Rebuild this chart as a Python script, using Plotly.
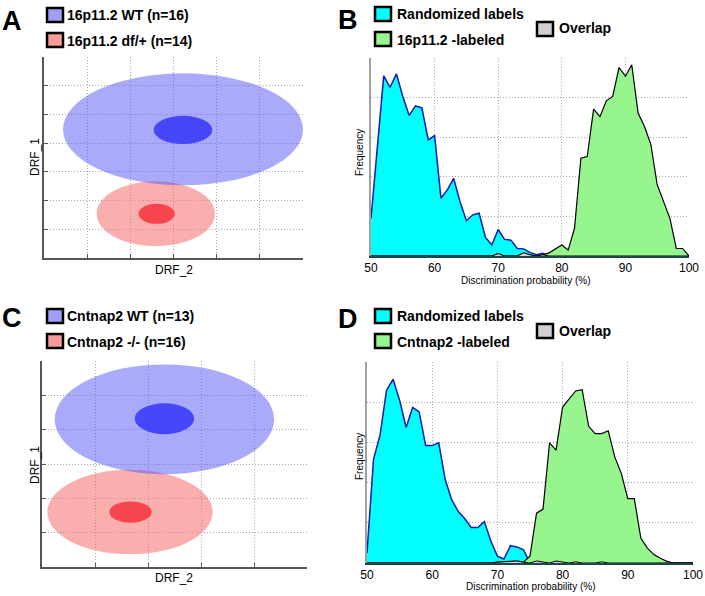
import plotly.graph_objects as go

# ---- data ----
# panel A / C: ellipses (centre x, centre y, radius x, radius y) in DRF units
a_wt_outer = (3.22, 4.48, 2.78, 1.95)
a_wt_inner = (3.22, 4.46, 0.68, 0.49)
a_df_outer = (2.59, 1.54, 1.37, 1.13)
a_df_inner = (2.61, 1.54, 0.42, 0.35)

c_wt_outer = (2.31, 4.30, 2.07, 1.60)
c_wt_inner = (2.31, 4.32, 0.56, 0.45)
c_ko_outer = (1.66, 1.60, 1.56, 1.23)
c_ko_inner = (1.67, 1.60, 0.40, 0.31)

# panel B / D: discrimination probability histograms
prob = list(range(50, 101))

b_random = [9.5, 28, 45.5, 42.6, 46.0, 40.3, 35.5, 37.9, 37.4, 29.3, 30.4,
            14.6, 16.7, 19.6, 13.7, 8.9, 10.4, 10.8, 4.7, 2.8, 6.7,
            4.2, 4.0, 1.9, 1.8, 0.9, 0.3, 0.7, 0, 0, 0,
            0, 0.3, 0, 0, 0, 0, 0, 0, 0, 0,
            0, 0, 0, 0, 0, 0, 0, 0, 0, 0]
b_label = [0, 0, 0, 0, 0, 0, 0, 0, 0, 0, 0,
           0, 0, 0, 0, 0, 0, 0, 0, 0, 0.6,
           0, 0, 0, 0.8, 0.3, 0, 0.3, 0.8, 1.8, 2.8,
           1.5, 7.0, 24.7, 25.1, 37.1, 35.2, 39.2, 40.3, 47.6, 45.4,
           48.3, 36.1, 32.7, 28.2, 18.0, 13.7, 9.5, 1.9, 1.9, 0]
b_overlap = [0, 0, 0, 0, 0, 0, 0, 0, 0, 0, 0,
             0, 0, 0, 0, 0, 0, 0, 0, 0, 0.6,
             0, 0, 0, 0.8, 0.3, 0, 0.3, 0, 0, 0,
             0, 0, 0, 0, 0, 0, 0, 0, 0, 0,
             0, 0, 0, 0, 0, 0, 0, 0, 0, 0]

d_random = [2.5, 25.8, 31.8, 43.0, 45.7, 40.5, 33.7, 38.7, 37.6, 29.2, 29.2,
            29.9, 20.7, 15.7, 12.8, 11.0, 8.8, 8.8, 10.3, 5.4, 1.7,
            1.0, 4.3, 4.0, 3.3, 0, 0.8, 0.3, 0, 0.8, 0.3,
            0, 0.3, 0, 0, 0, 0.3, 0, 0, 0, 0,
            0, 0, 0, 0, 0, 0, 0, 0, 0, 0]
d_label = [0, 0, 0, 0, 0, 0, 0, 0, 0, 0, 0,
           0, 0, 0, 0, 0, 0, 0, 0, 0, 0.2,
           0.3, 0.3, 0.5, 0.2, 1.7, 12.4, 13.4, 29.9, 28.1, 38.8,
           40.7, 42.8, 43.1, 34.0, 32.2, 32.2, 32.9, 26.4, 22.3, 16.0,
           16.0, 6.2, 3.7, 2.1, 1.2, 0.4, 0, 0, 0, 0]
d_overlap = [0, 0, 0, 0, 0, 0, 0, 0, 0, 0, 0,
             0, 0, 0, 0, 0, 0, 0, 0, 0, 0.2,
             0.3, 0.3, 0.5, 0.2, 0, 0.5, 0.3, 0, 0.5, 0.3,
             0, 0.3, 0, 0, 0, 0.3, 0, 0, 0, 0,
             0, 0, 0, 0, 0, 0, 0, 0, 0, 0]

legend_a = ["16p11.2 WT (n=16)", "16p11.2 df/+ (n=14)"]
legend_c = ["Cntnap2 WT (n=13)", "Cntnap2 -/- (n=16)"]
legend_b = ["Randomized labels", "16p11.2 -labeled", "Overlap"]
legend_d = ["Randomized labels", "Cntnap2 -labeled", "Overlap"]
hist_ticks = [50, 60, 70, 80, 90, 100]

# ---- colours ----
BLUE_OUT = "rgba(85,85,245,0.5)"
BLUE_IN = "rgba(60,60,250,0.9)"
RED_OUT = "rgba(245,110,110,0.55)"
RED_IN = "rgba(245,50,60,0.85)"
CYAN = "#00ffff"
CYAN_LINE = "#0a1ab4"
GREEN = "#96f58c"
GREY = "#cfcfcf"
FONT = "Liberation Sans, Arial, sans-serif"

W, H = 705, 596


def px(x):
    return x / W


def py(y):
    return 1 - y / H


fig = go.Figure()
shapes = []
annotations = []


def ellipse(ax, e, color):
    cx, cy, rx, ry = e
    return dict(type="circle", xref=ax[0], yref=ax[1], x0=cx - rx, x1=cx + rx,
                y0=cy - ry, y1=cy + ry, fillcolor=color, line=dict(width=0),
                layer="above")


def swatch(x, y, color):
    return dict(type="rect", xref="paper", yref="paper",
                x0=px(x), x1=px(x + 16), y0=py(y + 14), y1=py(y),
                fillcolor=color, line=dict(color="black", width=2.5))


def label(x, y, text, size=14, bold=True, angle=0, xanchor="left"):
    return dict(x=px(x), y=py(y), xref="paper", yref="paper",
                text=f"<b>{text}</b>" if bold else text, textangle=angle,
                showarrow=False, xanchor=xanchor, yanchor="middle",
                font=dict(size=size, color="black", family=FONT))


# panels A and C: discriminant ellipses
cols = [RED_OUT, BLUE_OUT, BLUE_IN, RED_IN]
for ax, ells in [(("x", "y"), (a_df_outer, a_wt_outer, a_wt_inner, a_df_inner)),
                 (("x3", "y3"), (c_ko_outer, c_wt_outer, c_wt_inner, c_ko_inner))]:
    for e, col in zip(ells, cols):
        shapes.append(ellipse(ax, e, col))

# invisible anchors so the ellipse axes render
fig.add_trace(go.Scatter(x=[0, 6], y=[0, 7], mode="markers", marker=dict(opacity=0),
                         xaxis="x", yaxis="y", showlegend=False, hoverinfo="skip"))
fig.add_trace(go.Scatter(x=[0, 5], y=[0, 6], mode="markers", marker=dict(opacity=0),
                         xaxis="x3", yaxis="y3", showlegend=False, hoverinfo="skip"))

# panels B and D: histograms
for xa, ya, rnd, lab, ov in [("x2", "y2", b_random, b_label, b_overlap),
                             ("x4", "y4", d_random, d_label, d_overlap)]:
    fig.add_trace(go.Scatter(x=prob, y=rnd, fill="tozeroy", fillcolor=CYAN, mode="lines",
                             line=dict(color=CYAN_LINE, width=1.5), xaxis=xa, yaxis=ya,
                             showlegend=False))
    fig.add_trace(go.Scatter(x=prob, y=lab, fill="tozeroy", fillcolor=GREEN, mode="lines",
                             line=dict(color="black", width=1.2), xaxis=xa, yaxis=ya,
                             showlegend=False))
    fig.add_trace(go.Scatter(x=prob, y=ov, fill="tozeroy", fillcolor=GREY, mode="lines",
                             line=dict(color="black", width=1), xaxis=xa, yaxis=ya,
                             showlegend=False))

# legends
for dy, names in [(0, legend_a), (301, legend_c)]:
    shapes.append(swatch(47, 8 + dy, "#9f9ff8"))
    shapes.append(swatch(47, 33 + dy, "#f79a9a"))
    annotations.append(label(65, 14.5 + dy, names[0]))
    annotations.append(label(65, 40.5 + dy, names[1]))
for dy, names in [(0, legend_b), (302, legend_d)]:
    shapes.append(swatch(375, 7 + dy, CYAN))
    shapes.append(swatch(375, 32 + dy, GREEN))
    shapes.append(swatch(537, 22 + dy, GREY))
    annotations.append(label(395, 13.5 + dy, names[0]))
    annotations.append(label(395, 39.5 + dy, names[1]))
    annotations.append(label(557, 28.5 + dy, names[2]))

# panel letters
for x, y, t in [(0, 21, "A"), (336, 20, "B"), (0, 318, "C"), (336, 319, "D")]:
    annotations.append(label(x, y, t, size=27))

# axis titles at fixed positions
for x, y in [(174, 270), (174, 578)]:
    annotations.append(label(x, y, "DRF_2", size=12, bold=False, xanchor="center"))
for x, y in [(35, 157), (35, 465)]:
    annotations.append(label(x, y, "DRF_1", size=12, bold=False, angle=-90, xanchor="center"))
for x, y in [(525, 280), (530, 586)]:
    annotations.append(label(x, y, "Discrimination probability (%)", size=10, bold=False,
                             xanchor="center"))
for x, y in [(359, 152), (359, 456)]:
    annotations.append(label(x, y, "Frequency", size=10, bold=False, angle=-90, xanchor="center"))

grid = dict(showgrid=True, gridcolor="#a8a8a8", griddash="1px,2px", gridwidth=1,
            zeroline=False, mirror=False, automargin=False)

ell_axis = dict(grid, showline=True, linecolor="#555555", linewidth=1.5,
                ticks="inside", ticklen=4, tickcolor="#555555", showticklabels=False,
                dtick=1)
hist_x = dict(grid, showline=True, linecolor="#1e4646", linewidth=2, range=[50, 100],
              tickvals=hist_ticks, ticks="", tickfont=dict(size=12, family=FONT, color="black"))
hist_y = dict(grid, showline=True, linecolor="#a0a0a0", linewidth=1.5, range=[0, 50],
              dtick=10, ticks="", showticklabels=False)

fig.update_layout(
    width=W, height=H,
    margin=dict(l=0, r=0, t=0, b=0),
    paper_bgcolor="white", plot_bgcolor="white",
    font=dict(family=FONT, color="black"),
    showlegend=False,
    shapes=shapes, annotations=annotations,
    xaxis=dict(ell_axis, domain=[px(44), px(303)], range=[0, 6], anchor="y"),
    yaxis=dict(ell_axis, domain=[py(258), py(57)], range=[0, 7], anchor="x"),
    xaxis3=dict(ell_axis, domain=[px(42), px(307)], range=[0, 5], anchor="y3"),
    yaxis3=dict(ell_axis, domain=[py(567), py(361)], range=[0, 6], anchor="x3"),
    xaxis2=dict(hist_x, domain=[px(371), px(689)], anchor="y2"),
    yaxis2=dict(hist_y, domain=[py(256), py(58)], anchor="x2"),
    xaxis4=dict(hist_x, domain=[px(367), px(693)], anchor="y4"),
    yaxis4=dict(hist_y, domain=[py(563), py(362)], anchor="x4"),
)

# drop the default page margin so the figure sits at the window's corner
fig.write_html("out.html", config={"displayModeBar": False},
               post_script="document.body.style.margin='0px';")
